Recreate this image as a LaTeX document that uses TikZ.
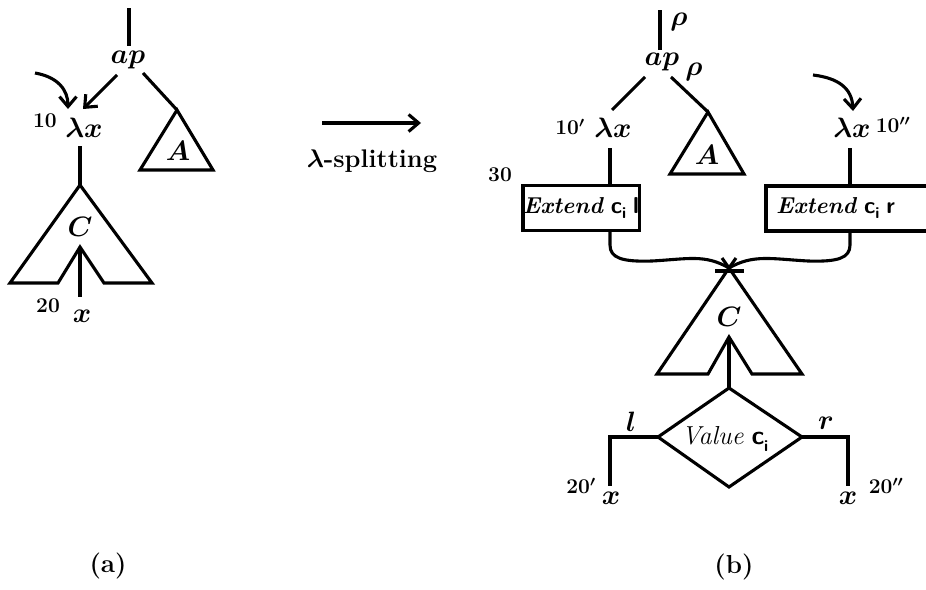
\RequirePackage{fix-cm}
\documentclass[tikz,border=0pt]{standalone}
\usetikzlibrary{arrows.meta}
\newcommand{\cisub}{\textsf{\textbf{c}}\raisebox{-0.25em}{\fontsize{16}{18}\selectfont\textsf{\textbf{i}}}}
\begin{document}
\begin{tikzpicture}[x=1pt,y=-1pt,
  ln/.style={line width=3.1pt, line join=miter},
  arr/.style={ln, -{Straight Barb[length=10pt,width=17pt]}},
  lbl/.style={inner sep=0pt, font=\fontsize{28}{32}\selectfont\boldmath},
  num/.style={inner sep=0pt, font=\fontsize{21}{25}\selectfont\bfseries\boldmath},
  boxtxt/.style={inner sep=0pt, font=\fontsize{23}{27}\selectfont},
  captxt/.style={inner sep=0pt, font=\fontsize{26}{30}\selectfont\bfseries},
  splittxt/.style={inner sep=0pt, font=\fontsize{25.5}{29}\selectfont\bfseries\boldmath}]
\useasboundingbox (0,0) rectangle (926,589);

% ---------- (a) ----------
\coordinate (atop) at (129,8);
\node[lbl] (ap1) at (128,60) {$ap$};
\draw[ln] (atop) -- (129,46);
\node[lbl] (lam1) at (84,128) {$\lambda x$};
\node[num] (n10) at (45,121) {10};
\coordinate (ap1l) at (117,75);
\coordinate (lam1t) at (83,109);
\draw[arr] (ap1l) -- (lam1t);
\coordinate (cs1) at (35,73);
\coordinate (ce1) at (68,109);
\draw[arr] (cs1) .. controls (58,77) and (68,90) .. (ce1);
% triangle A
\coordinate (A1apex) at (177,110);
\draw[ln] (143,73) -- (A1apex);
\draw[ln] (A1apex) -- (140,170) -- (213,170) -- cycle;
\node[lbl] (A1) at (178,151) {$A$};
% C shape
\coordinate (C1apex) at (80,185);
\draw[ln] (80,146) -- (C1apex);
\draw[ln] (C1apex) -- (10,283) -- (58,283) -- (80,247) -- (104,283) -- (152,283) -- cycle;
\node[lbl] (C1) at (80,227) {$C$};
\node[lbl] (x1) at (82,316) {$x$};
\draw[ln] (80,247) -- (80,297);
\node[num] (n20) at (48,306) {20};
\node[captxt] (capa) at (108,566) {(a)};

% ---------- middle ----------
\coordinate (ms) at (322,123);
\coordinate (me) at (421,123);
\draw[arr] (ms) -- (me);
\node[splittxt] (lsplit) at (372,161) {$\lambda$-splitting};

% ---------- (b) ----------
\draw[ln] (660,10) -- (660,50);
\node[lbl] (rho1) at (679,22) {$\rho$};
\node[lbl] (ap2) at (662,62) {$ap$};
\node[lbl] (rho2) at (694,72) {$\rho$};
\node[lbl] (lam2) at (613,128) {$\lambda x$};
\node[num] (n10p) at (570,127) {$10'$};
\draw[ln] (645,77) -- (612,110);
\coordinate (A2apex) at (708,112);
\draw[ln] (671,77) -- (A2apex);
\draw[ln] (A2apex) -- (670,174) -- (744,174) -- cycle;
\node[lbl] (A2) at (707,155) {$A$};
% left box
\node[draw, ln, minimum width=112pt, minimum height=45pt, inner sep=0pt, boxtxt] (box1) at (581,208)
  {\textbf{\textit{Extend}}\ \cisub\ \textsf{\textbf{l}}};
\draw[ln] (610,148) -- (610,185.7);
\node[num] (n30) at (500,175) {30};
% right lambda
\node[lbl] (lam3) at (852,128) {$\lambda x$};
\node[num] (n10pp) at (893,125) {$10''$};
\draw[arr] (813,75) .. controls (838,78) and (852,88) .. (853,111);
\draw[ln] (850,148) -- (850,185.7);
% right box (cut by the page edge)
\draw[ln] (940,186) -- (766,186) -- (766,231) -- (940,231);
\node[boxtxt, anchor=west] (box2) at (776,208)
  {\textbf{\textit{Extend}}\ \cisub\ \textsf{\textbf{r}}};
% curves to the star
\coordinate (star) at (729,268);
\draw[ln] (610,231) -- (610,245) .. controls (610,258) and (622,262) .. (652,261)
  .. controls (688,259) and (705,254) .. (star);
\draw[ln] (850,231) -- (850,245) .. controls (850,258) and (838,262) .. (808,261)
  .. controls (772,259) and (753,254) .. (star);
\draw[ln] (715,271) -- (744,271);
% C shape (b)
\draw[ln] (736,258) -- (star) -- (657,374) -- (708,374) -- (729,337) -- (752,374) -- (802,374) -- (star) -- (722,258);
\node[lbl] (C2) at (729,317) {$C$};
% diamond
\draw[ln] (729,337) -- (729,388);
\draw[ln] (729,388) -- (802,437) -- (729,487) -- (658,437) -- cycle;
\node[inner sep=0pt, font=\fontsize{26}{30}\selectfont] (val) at (725,439) {\textit{Value} \cisub};
\draw[ln] (658,437) -- (610,437) -- (610,486);
\draw[ln] (802,437) -- (848,437) -- (848,486);
\node[lbl] (lbll) at (631,422) {$l$};
\node[lbl] (lblr) at (826,423) {$r$};
\node[lbl] (x2) at (611,498) {$x$};
\node[lbl] (x3) at (848,498) {$x$};
\node[num] (n20p) at (581,486) {$20'$};
\node[num] (n20pp) at (886,486) {$20''$};
\node[captxt] (capb) at (734,567) {(b)};
\end{tikzpicture}
\end{document}
